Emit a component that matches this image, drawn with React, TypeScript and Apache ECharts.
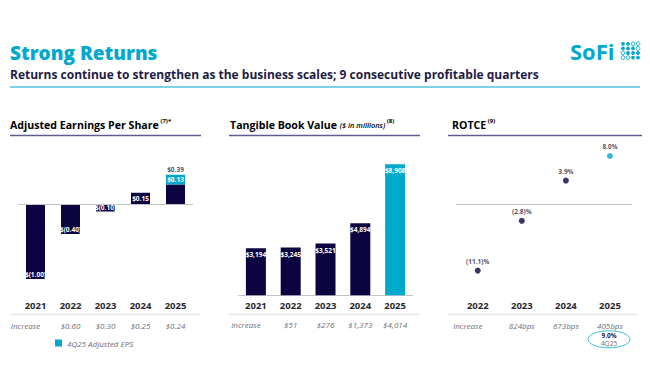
import React, { useEffect, useRef } from 'react';
import * as echarts from 'echarts';

// ---------- data ----------
const epsYears = ['2021', '2022', '2023', '2024', '2025'];
const epsFullYear = [-1.0, -0.4, -0.1, 0.15, 0.39];
const eps4Q25: (number | null)[] = [null, null, null, null, 0.13];
const epsIncrease: (string | null)[] = [null, '$0.60', '$0.30', '$0.25', '$0.24'];

const tbvYears = ['2021', '2022', '2023', '2024', '2025'];
const tbvValues = [3194, 3245, 3521, 4894, 8908];
const tbvIncrease: (string | null)[] = [null, '$51', '$276', '$1,373', '$4,014'];

const rotceYears = ['2022', '2023', '2024', '2025'];
const rotceValues = [-11.1, -2.8, 3.9, 8.0];
const rotceIncrease: (string | null)[] = [null, '824bps', '673bps', '405bps'];
const rotce4Q25Value = '9.0%';
const rotce4Q25Label = '4Q25';

const increaseLabel = 'Increase';
const legendName = '4Q25 Adjusted EPS';

// ---------- styles ----------
const NAVY = '#0b0440';
const CYAN = '#00a8cc';
const TEXT_NAVY = '#1e1c45';
const GREY = '#6e6e78';
const FONT = "'Open Sans', sans-serif";

const fmtEps = (v: number) => (v < 0 ? `$(${Math.abs(v).toFixed(2)})` : `$${v.toFixed(2)}`);
const fmtPct = (v: number) => (v < 0 ? `(${Math.abs(v).toFixed(1)})%` : `${v.toFixed(1)}%`);
const fmtMoney = (v: number) => `$${v.toLocaleString('en-US')}`;

const barLabel = {
  color: '#fff',
  fontSize: 6.5,
  fontWeight: 'bold' as const,
  fontFamily: FONT,
};

const yearLabel = {
  fontSize: 9.5,
  fontWeight: 'bold' as const,
  color: '#2a2a2e',
  fontFamily: FONT,
};

const incLabelBase = {
  fontSize: 8,
  fontStyle: 'italic' as const,
  color: GREY,
  fontFamily: FONT,
};

function incAxis(gridIndex: number, data: string[], inc: (string | null)[], offset: number, margin: number) {
  return {
    gridIndex,
    type: 'category',
    data,
    position: 'bottom',
    offset,
    axisLine: { show: false },
    axisTick: { show: false },
    axisLabel: {
      ...incLabelBase,
      margin,
      interval: 0,
      formatter: (_v: string, i: number) => (i === 0 ? `{inc|${increaseLabel}}` : `{v|${inc[i] ?? ''}}`),
      rich: {
        inc: { ...incLabelBase, padding: [0, 20, 0, 0] },
        v: { ...incLabelBase },
      },
    },
  };
}

function yearAxis(gridIndex: number, data: string[], margin: number, showLine: boolean) {
  return {
    gridIndex,
    type: 'category',
    data,
    position: 'bottom',
    axisLine: { show: showLine, onZero: false, lineStyle: { color: '#c4c4c8', width: 1 } },
    axisTick: { show: false },
    axisLabel: { ...yearLabel, margin, interval: 0 },
  };
}

const zeroMarkLine = {
  silent: true,
  symbol: 'none',
  label: { show: false },
  lineStyle: { color: '#c4c4c8', width: 1, type: 'solid' as const },
  data: [{ yAxis: 0 }],
};

// EPS split into pre-4Q part and 4Q25 part for the stacked year
const epsDark = epsFullYear.map((v, i) =>
  eps4Q25[i] != null ? Math.round((v - (eps4Q25[i] as number)) * 100) / 100 : v
);

// logo dot pattern (1 = filled, 0 = outlined)
const logoPattern = [
  [1, 1, 0, 0],
  [1, 1, 1, 0],
  [0, 1, 1, 1],
  [0, 0, 1, 1],
];

function buildOption() {
  const logoDots: any[] = [];
  logoPattern.forEach((row, r) =>
    row.forEach((f, c) => {
      logoDots.push({
        type: 'circle',
        shape: { cx: 623 + c * 5, cy: 43.8 + r * 4.6, r: 1.9 },
        style: f ? { fill: CYAN } : { fill: '#fff', stroke: CYAN, lineWidth: 0.9 },
        silent: true,
      });
    })
  );

  const headerRich = {
    b: { fontSize: 10.6, fontWeight: 'bold', color: TEXT_NAVY, fontFamily: FONT, lineHeight: 14 },
    i: { fontSize: 7.4, fontStyle: 'italic', fontWeight: 600, color: TEXT_NAVY, fontFamily: FONT, lineHeight: 14 },
    s: { fontSize: 6, fontWeight: 'bold', color: TEXT_NAVY, fontFamily: FONT, verticalAlign: 'top', lineHeight: 9 },
  };

  const graphic: any[] = [
    {
      type: 'text',
      x: 10,
      y: 53,
      style: {
        text: 'Strong Returns',
        fill: CYAN,
        fontSize: 19,
        fontWeight: 800,
        fontFamily: FONT,
        verticalAlign: 'middle',
      },
    },
    {
      type: 'text',
      x: 10,
      y: 74,
      style: {
        text: 'Returns continue to strengthen as the business scales; 9 consecutive profitable quarters',
        fill: TEXT_NAVY,
        fontSize: 12,
        fontWeight: 'bold',
        fontFamily: FONT,
        verticalAlign: 'middle',
      },
    },
    { type: 'line', shape: { x1: 10, y1: 87, x2: 640, y2: 87 }, style: { stroke: '#4cc3dc', lineWidth: 1.3 } },
    {
      type: 'text',
      x: 570,
      y: 50.5,
      style: { text: 'SoFi', fill: CYAN, fontSize: 22, fontWeight: 'bold', fontFamily: FONT, verticalAlign: 'middle' },
    },
    ...logoDots,
    // section headers
    {
      type: 'text',
      x: 10,
      y: 125,
      style: { text: '{b|Adjusted Earnings Per Share}{s| (7)*}', rich: headerRich, verticalAlign: 'middle' },
    },
    {
      type: 'text',
      x: 230,
      y: 125,
      style: { text: '{b|Tangible Book Value }{i|($ in millions)}{s| (8)}', rich: headerRich, verticalAlign: 'middle' },
    },
    {
      type: 'text',
      x: 452,
      y: 125,
      style: { text: '{b|ROTCE}{s| (9)}', rich: headerRich, verticalAlign: 'middle' },
    },
    { type: 'line', shape: { x1: 10, y1: 135.5, x2: 201, y2: 135.5 }, style: { stroke: '#5e5c8c', lineWidth: 1.4 } },
    { type: 'line', shape: { x1: 229, y1: 135.5, x2: 420, y2: 135.5 }, style: { stroke: '#5e5c8c', lineWidth: 1.4 } },
    { type: 'line', shape: { x1: 448, y1: 135.5, x2: 642, y2: 135.5 }, style: { stroke: '#5e5c8c', lineWidth: 1.4 } },
    // separators under year labels
    { type: 'line', shape: { x1: 10, y1: 314.5, x2: 200, y2: 314.5 }, style: { stroke: '#e6e6ee', lineWidth: 1.6 } },
    { type: 'line', shape: { x1: 229, y1: 314.5, x2: 419, y2: 314.5 }, style: { stroke: '#e6e6ee', lineWidth: 1.6 } },
    { type: 'line', shape: { x1: 448, y1: 314.5, x2: 638, y2: 314.5 }, style: { stroke: '#e6e6ee', lineWidth: 1.6 } },
    // 4Q25 ROTCE callout
    {
      type: 'ellipse',
      shape: { cx: 609, cy: 339.3, rx: 21, ry: 8.5 },
      style: { fill: 'none', stroke: '#3cc0db', lineWidth: 1 },
    },
    {
      type: 'text',
      x: 609,
      y: 335.5,
      style: {
        text: rotce4Q25Value,
        fill: TEXT_NAVY,
        fontSize: 6.5,
        fontWeight: 'bold',
        fontFamily: FONT,
        align: 'center',
        verticalAlign: 'middle',
      },
    },
    {
      type: 'text',
      x: 609,
      y: 343,
      style: {
        text: rotce4Q25Label,
        fill: GREY,
        fontSize: 6.5,
        fontFamily: FONT,
        align: 'center',
        verticalAlign: 'middle',
      },
    },
  ];

  return {
    animation: false,
    backgroundColor: '#ffffff',
    textStyle: { fontFamily: FONT },
    legend: {
      data: [legendName],
      left: 55,
      top: 339,
      padding: 0,
      icon: 'rect',
      itemWidth: 7,
      itemHeight: 7,
      selectedMode: false,
      textStyle: { fontSize: 8, fontStyle: 'italic', color: GREY, fontFamily: FONT },
    },
    grid: [
      { left: 18, width: 175, top: 159, height: 135 },
      { left: 238.5, width: 174, top: 163, height: 132.3 },
      { left: 455.7, width: 176.3, top: 144, height: 150 },
    ],
    xAxis: [
      yearAxis(0, epsYears, 6, false),
      incAxis(0, epsYears, epsIncrease, 21.5, 6),
      yearAxis(1, tbvYears, 5, true),
      incAxis(1, tbvYears, tbvIncrease, 20.5, 5),
      yearAxis(2, rotceYears, 6, false),
      incAxis(2, rotceYears, rotceIncrease, 21.5, 6),
    ],
    yAxis: [
      { gridIndex: 0, type: 'value', min: -1.2, max: 0.6, show: false },
      { gridIndex: 1, type: 'value', min: 0, max: 9000, show: false },
      { gridIndex: 2, type: 'value', min: -15, max: 10, show: false },
    ],
    series: [
      {
        name: 'Adjusted EPS',
        type: 'bar',
        xAxisIndex: 0,
        yAxisIndex: 0,
        stack: 'eps',
        barWidth: 19,
        itemStyle: { color: NAVY },
        label: { ...barLabel, show: true, formatter: (p: any) => fmtEps(p.value) },
        data: epsDark.map((v, i) => ({
          value: v,
          label: {
            show: eps4Q25[i] == null,
            position: v < -0.2 ? 'insideBottom' : 'inside',
            distance: 1,
          },
        })),
        markLine: zeroMarkLine,
      },
      {
        name: legendName,
        type: 'bar',
        xAxisIndex: 0,
        yAxisIndex: 0,
        stack: 'eps',
        barWidth: 19,
        itemStyle: { color: CYAN },
        label: {
          ...barLabel,
          show: true,
          position: 'inside',
          formatter: (p: any) => (p.value == null ? '' : fmtEps(p.value)),
        },
        data: eps4Q25,
      },
      {
        name: 'Full-year EPS',
        type: 'scatter',
        xAxisIndex: 0,
        yAxisIndex: 0,
        symbolSize: 0,
        silent: true,
        label: {
          show: true,
          position: 'top',
          distance: 1.5,
          color: TEXT_NAVY,
          fontSize: 6.5,
          fontWeight: 'bold',
          fontFamily: FONT,
          formatter: (p: any) => fmtEps(p.value),
        },
        data: epsFullYear.map((v, i) => (eps4Q25[i] != null ? v : null)),
      },
      {
        name: 'Tangible Book Value',
        type: 'bar',
        xAxisIndex: 2,
        yAxisIndex: 1,
        barWidth: 20,
        itemStyle: { color: NAVY },
        label: {
          ...barLabel,
          show: true,
          position: 'insideTop',
          distance: 3,
          formatter: (p: any) => fmtMoney(p.value),
        },
        data: tbvValues.map((v, i) => ({
          value: v,
          itemStyle: { color: i === tbvValues.length - 1 ? CYAN : NAVY },
        })),
      },
      {
        name: 'ROTCE',
        type: 'scatter',
        xAxisIndex: 4,
        yAxisIndex: 2,
        symbolSize: 6,
        itemStyle: { color: NAVY },
        label: {
          show: true,
          position: 'top',
          distance: 3,
          color: TEXT_NAVY,
          fontSize: 6.5,
          fontWeight: 'bold',
          fontFamily: FONT,
          formatter: (p: any) => fmtPct(p.value),
        },
        data: rotceValues.map((v, i) => ({
          value: v,
          itemStyle: { color: i === rotceValues.length - 1 ? CYAN : NAVY },
        })),
        markLine: zeroMarkLine,
      },
    ],
    graphic,
  };
}

export default function App() {
  const ref = useRef<HTMLDivElement>(null);
  useEffect(() => {
    if (!ref.current) return;
    const chart = echarts.init(ref.current, null, { renderer: 'svg', width: 650, height: 386 });
    chart.setOption(buildOption() as any);
    return () => chart.dispose();
  }, []);
  return (
    <div
      ref={ref}
      style={{ position: 'fixed', left: 0, top: 0, width: 650, height: 386, background: '#fff' }}
    />
  );
}
